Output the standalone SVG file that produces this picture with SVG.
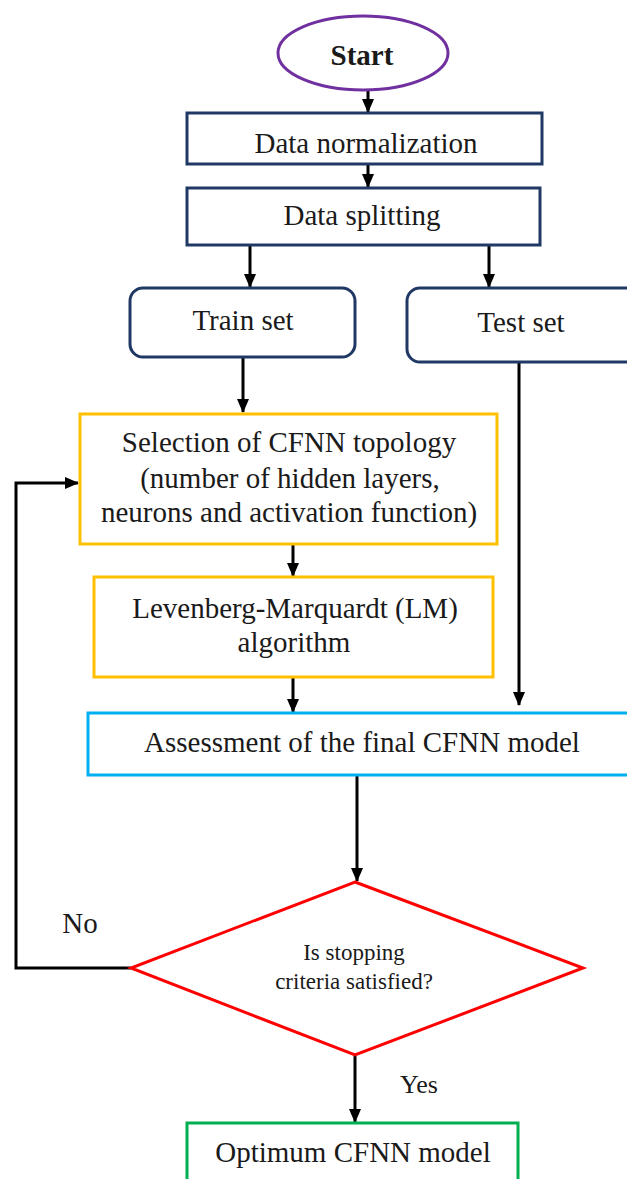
<svg xmlns="http://www.w3.org/2000/svg" width="627" height="1179" viewBox="0 0 627 1179">
<style>
.t{font-family:"Liberation Serif","Times New Roman",serif;font-size:29px;fill:#1a1a1a;text-anchor:middle}
.s{font-size:23px}
.b{font-weight:bold}
.navy{fill:#fff;stroke:#1F3864;stroke-width:3}
.orange{fill:#fff;stroke:#FFC000;stroke-width:3}
.cyan{fill:#fff;stroke:#00B0F0;stroke-width:3}
.c{fill:none;stroke:#000;stroke-width:3}
</style>
<defs>
<marker id="ah" markerUnits="userSpaceOnUse" markerWidth="14" markerHeight="14" viewBox="0 0 14 14" refX="13" refY="7" orient="auto">
<path d="M0,1 L14,7 L0,13 Z" fill="#000"/>
</marker>
</defs>
<rect width="627" height="1179" fill="#fff"/>
<g id="connectors">
<path class="c" d="M368,90 V112" marker-end="url(#ah)"/>
<path class="c" d="M368,164 V187" marker-end="url(#ah)"/>
<path class="c" d="M250,245 V287" marker-end="url(#ah)"/>
<path class="c" d="M489,245 V287" marker-end="url(#ah)"/>
<path class="c" d="M243,357 V412" marker-end="url(#ah)"/>
<path class="c" d="M293,544 V576" marker-end="url(#ah)"/>
<path class="c" d="M293,677 V712" marker-end="url(#ah)"/>
<path class="c" d="M519,362 V705" marker-end="url(#ah)"/>
<path class="c" d="M357,775 V881" marker-end="url(#ah)"/>
<path class="c" d="M131,968 H16 V483 H78" marker-end="url(#ah)"/>
<path class="c" d="M355,1055 V1122" marker-end="url(#ah)"/>
</g>
<g id="start">
<ellipse cx="363" cy="53" rx="85" ry="37" fill="#fff" stroke="#7030A0" stroke-width="3"/>
<text class="t b" x="362" y="65">Start</text>
</g>
<g id="normalization">
<rect class="navy" x="187" y="113" width="355" height="51"/>
<text class="t" x="366" y="153">Data normalization</text>
</g>
<g id="splitting">
<rect class="navy" x="187" y="188" width="353" height="57"/>
<text class="t" x="362" y="225">Data splitting</text>
</g>
<g id="train">
<rect class="navy" x="130" y="288" width="225" height="69" rx="13"/>
<text class="t" x="243" y="330">Train set</text>
</g>
<g id="test">
<rect class="navy" x="407" y="288" width="240" height="74" rx="13"/>
<text class="t" x="521" y="332">Test set</text>
</g>
<g id="topology">
<rect class="orange" x="80" y="414" width="417" height="130"/>
<text class="t" x="289" y="452">Selection of CFNN topology</text>
<text class="t" x="290" y="488">(number of hidden layers,</text>
<text class="t" x="289" y="522">neurons and activation function)</text>
</g>
<g id="lm">
<rect class="orange" x="94" y="577" width="399" height="100"/>
<text class="t" x="295" y="618">Levenberg-Marquardt (LM)</text>
<text class="t" x="294" y="652">algorithm</text>
</g>
<g id="assessment">
<rect class="cyan" x="88" y="713" width="560" height="62"/>
<text class="t" x="362" y="752">Assessment of the final CFNN model</text>
</g>
<g id="decision">
<polygon points="355,882 583,968 355,1055 131,968" fill="#fff" stroke="#FF0000" stroke-width="3"/>
<text class="t s" x="354" y="960">Is stopping</text>
<text class="t s" x="354" y="989">criteria satisfied?</text>
</g>
<g id="labels">
<text class="t" x="80" y="933">No</text>
<text class="t" x="419" y="1093" style="font-size:26px">Yes</text>
</g>
<g id="optimum">
<rect x="187" y="1123" width="331" height="70" fill="#fff" stroke="#00B050" stroke-width="3"/>
<text class="t" x="353" y="1162">Optimum CFNN model</text>
</g>
</svg>
